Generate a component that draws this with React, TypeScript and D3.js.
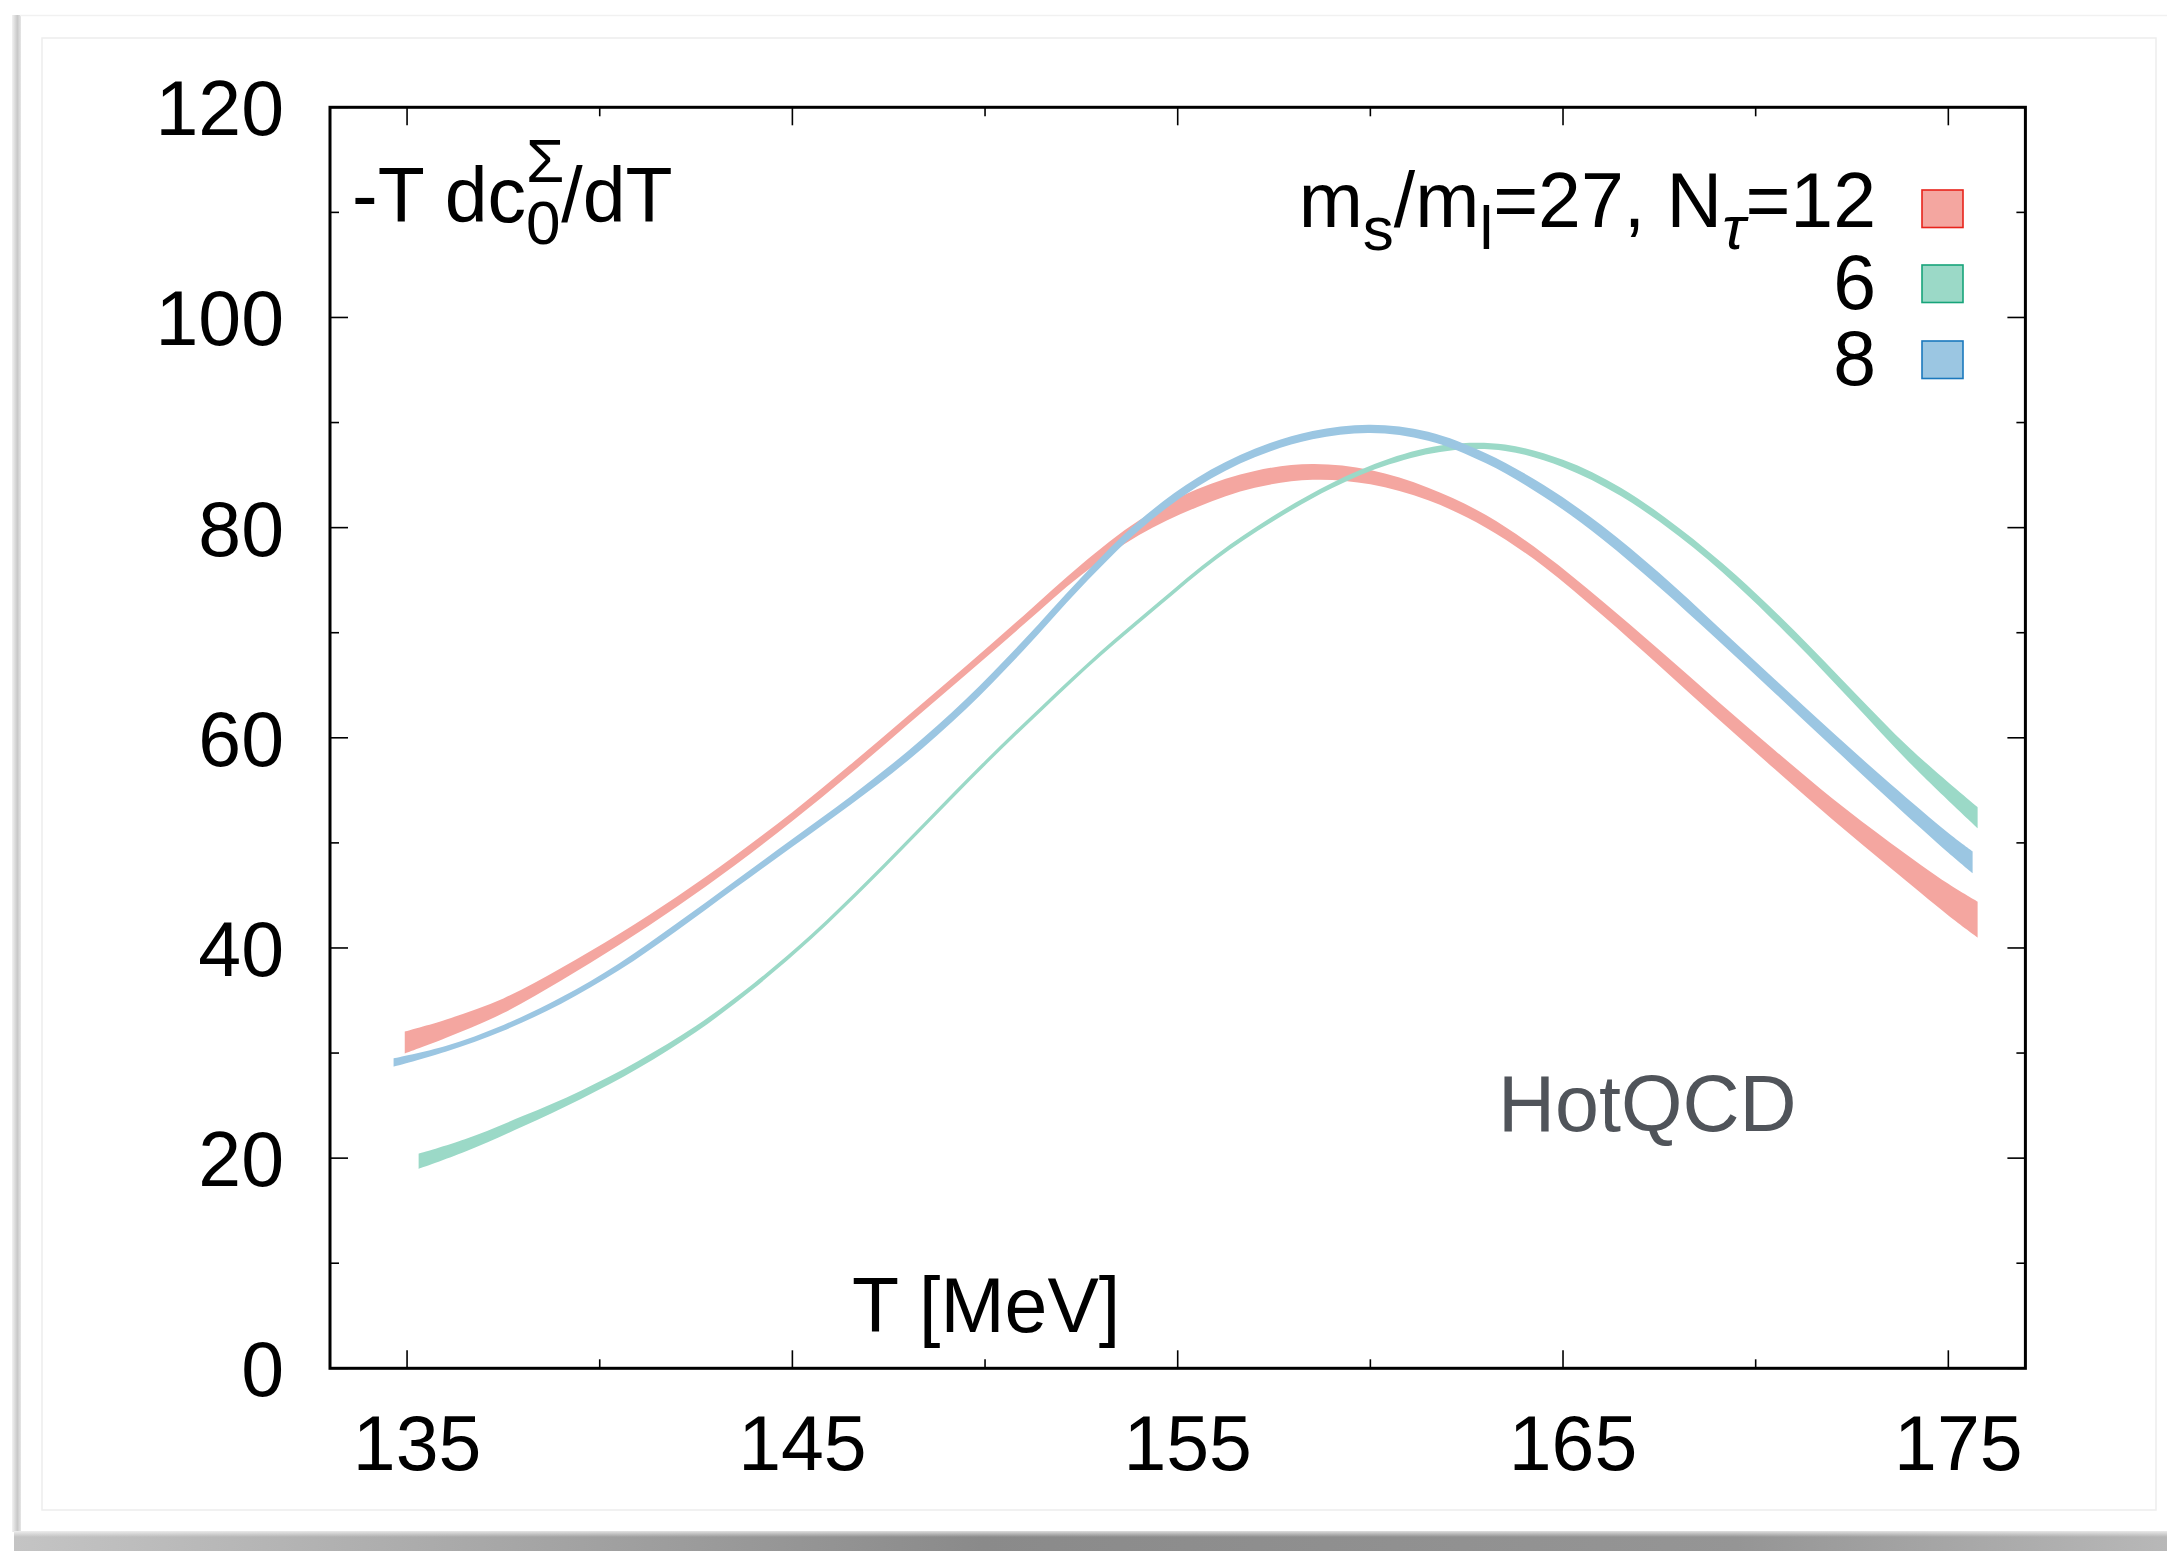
import React from "react";
import * as d3 from "d3";

// ---- data: band centre and band width ----
// N_tau = 12 (red band)
const nt12T = [134.94, 136, 137.5, 139, 140.5, 142, 143.5, 145, 146.5, 148, 149.5, 151, 152.5, 154, 155.5, 157, 158.5, 160, 161.5, 163, 164.5, 166, 167.5, 169, 170.5, 172, 173.5, 175, 175.76];
const nt12Mid = [31.0, 32.3, 34.5, 37.5, 40.8, 44.4, 48.3, 52.5, 57.0, 61.7, 66.4, 71.2, 76.0, 80.0, 82.8, 84.6, 85.3, 84.8, 83.2, 80.6, 76.9, 72.4, 67.6, 62.7, 57.9, 53.2, 48.8, 44.6, 42.7];
const nt12Width = [2.1, 1.75, 1.4, 1.2, 1.05, 0.95, 0.9, 0.85, 0.85, 0.8, 0.8, 0.85, 1.0, 1.4, 1.7, 1.6, 1.5, 1.35, 1.2, 1.2, 1.2, 1.35, 1.5, 1.65, 1.8, 2.0, 2.4, 3.0, 3.4];

// N_tau = 6 (green band)
const nt6T = [135.3, 136.5, 138, 139.5, 141, 142.5, 144, 145.5, 147, 148.5, 150, 151.5, 153, 154.5, 156, 157.5, 159, 160.5, 162, 163.5, 165, 166.5, 168, 169.5, 171, 172.5, 174, 175.76];
const nt6Mid = [19.7, 21.2, 23.5, 26.0, 28.9, 32.3, 36.4, 41.1, 46.4, 52.0, 57.6, 62.9, 68.0, 72.7, 77.2, 80.9, 84.0, 86.3, 87.6, 87.6, 86.1, 83.4, 79.6, 75.0, 69.7, 64.0, 58.3, 52.4];
const nt6Width = [1.45, 1.2, 1.0, 0.8, 0.7, 0.6, 0.5, 0.45, 0.45, 0.45, 0.45, 0.45, 0.45, 0.45, 0.45, 0.5, 0.5, 0.55, 0.6, 0.6, 0.7, 0.8, 0.8, 0.9, 1.0, 1.1, 1.4, 2.0];

// N_tau = 8 (blue band)
const nt8T = [134.65, 136, 137.5, 139, 140.5, 142, 143.5, 145, 146.5, 148, 149.5, 151, 152.5, 154, 155.5, 157, 158.5, 160, 161.5, 163, 164.5, 166, 167.5, 169, 170.5, 172, 173.5, 175, 175.63];
const nt8Mid = [29.1, 30.4, 32.4, 35.0, 38.2, 42.0, 46.0, 50.0, 54.0, 58.3, 63.2, 68.8, 74.8, 80.2, 84.3, 87.1, 88.8, 89.4, 88.7, 86.6, 83.5, 79.6, 75.0, 70.0, 64.9, 59.8, 54.8, 50.0, 48.15];
const nt8Width = [0.8, 0.55, 0.55, 0.6, 0.65, 0.7, 0.7, 0.75, 0.8, 0.9, 0.95, 0.95, 0.9, 0.9, 0.85, 0.8, 0.8, 0.8, 0.85, 0.95, 1.1, 1.25, 1.35, 1.3, 1.3, 1.4, 1.6, 1.9, 2.1];

const xMajorTicks = [135, 145, 155, 165, 175];
const xMinorTicks = [140, 150, 160, 170];
const yMajorTicks = [0, 20, 40, 60, 80, 100, 120];
const yMinorTicks = [10, 30, 50, 70, 90, 110];
const legendLabels = ["12", "6", "8"];

const W = 2167;
const H = 1551;
const FS = 77;
const SUB = 62;

const x = d3.scaleLinear().domain([133, 177]).range([330, 2025.4]);
const y = d3.scaleLinear().domain([0, 120]).range([1368.3, 107.3]);

type Pt = { t: number; lo: number; hi: number };
const zipBand = (t: number[], mid: number[], w: number[]): Pt[] =>
  t.map((v, i) => ({ t: v, lo: mid[i] - w[i] / 2, hi: mid[i] + w[i] / 2 }));

const area = d3
  .area<Pt>()
  .x((d) => x(d.t))
  .y0((d) => y(d.lo))
  .y1((d) => y(d.hi))
  .curve(d3.curveCatmullRom.alpha(0.5));

const bands = [
  { key: "12", data: zipBand(nt12T, nt12Mid, nt12Width), fill: "#f4a6a0", stroke: "#e8231b" },
  { key: "6", data: zipBand(nt6T, nt6Mid, nt6Width), fill: "#9bd9c7", stroke: "#17a47a" },
  { key: "8", data: zipBand(nt8T, nt8Mid, nt8Width), fill: "#9bc6e2", stroke: "#1b78bd" },
];

export default function App() {
  const [x0, x1] = x.range();
  const [yb, yt] = y.range();
  const font = "'Liberation Sans', Arial, Helvetica, sans-serif";
  const legendRows = [
    { base: 227, boxTop: 190 },
    { base: 309, boxTop: 265 },
    { base: 385, boxTop: 341 },
  ];
  return (
    <svg
      width={W}
      height={H}
      viewBox={`0 0 ${W} ${H}`}
      style={{ position: "absolute", left: 0, top: 0, background: "#ffffff" }}
      fontFamily={font}
    >
      <defs>
        <linearGradient id="bshadow" x1="0" y1="0" x2="1" y2="0">
          <stop offset="0" stopColor="#c4c4c4" />
          <stop offset="0.45" stopColor="#8a8a8a" />
          <stop offset="0.8" stopColor="#959595" />
          <stop offset="1" stopColor="#b8b8b8" />
        </linearGradient>
        <linearGradient id="lshadow" x1="0" y1="0" x2="1" y2="0">
          <stop offset="0" stopColor="#f2f2f2" />
          <stop offset="0.6" stopColor="#c8c8c8" />
          <stop offset="1" stopColor="#e6e6e6" />
        </linearGradient>
        <linearGradient id="bfade" x1="0" y1="0" x2="0" y2="1">
          <stop offset="0" stopColor="#ffffff" stopOpacity="0.7" />
          <stop offset="0.3" stopColor="#ffffff" stopOpacity="0" />
          <stop offset="1" stopColor="#ffffff" stopOpacity="0" />
        </linearGradient>
      </defs>
      <rect x={0} y={0} width={W} height={H} fill="#ffffff" />
      {/* photo-frame decoration */}
      <rect x={12} y={15} width={9} height={1517} fill="url(#lshadow)" />
      <line x1={20} y1={15.5} x2={W} y2={15.5} stroke="#f1f1f1" strokeWidth={1.5} />
      <rect x={14} y={1531} width={W - 14} height={20} fill="url(#bshadow)" />
      <rect x={14} y={1531} width={W - 14} height={20} fill="url(#bfade)" />
      <rect x={42} y={38} width={2114} height={1472} fill="none" stroke="#ededed" strokeWidth={1.5} />

      {/* bands */}
      {bands.map((b) => (
        <path key={b.key} d={area(b.data) || ""} fill={b.fill} stroke="none" />
      ))}

      {/* ticks */}
      <g stroke="#000" strokeWidth={1.6}>
        {xMajorTicks.map((t) => (
          <g key={"xM" + t}>
            <line x1={x(t)} x2={x(t)} y1={yb} y2={yb - 18} />
            <line x1={x(t)} x2={x(t)} y1={yt} y2={yt + 18} />
          </g>
        ))}
        {xMinorTicks.map((t) => (
          <g key={"xm" + t}>
            <line x1={x(t)} x2={x(t)} y1={yb} y2={yb - 9} />
            <line x1={x(t)} x2={x(t)} y1={yt} y2={yt + 9} />
          </g>
        ))}
        {yMajorTicks.map((t) => (
          <g key={"yM" + t}>
            <line x1={x0} x2={x0 + 18} y1={y(t)} y2={y(t)} />
            <line x1={x1} x2={x1 - 18} y1={y(t)} y2={y(t)} />
          </g>
        ))}
        {yMinorTicks.map((t) => (
          <g key={"ym" + t}>
            <line x1={x0} x2={x0 + 9} y1={y(t)} y2={y(t)} />
            <line x1={x1} x2={x1 - 9} y1={y(t)} y2={y(t)} />
          </g>
        ))}
      </g>

      {/* frame */}
      <rect x={x0} y={yt} width={x1 - x0} height={yb - yt} fill="none" stroke="#000" strokeWidth={3} />

      {/* tick labels */}
      <g fontSize={FS} fill="#000">
        {xMajorTicks.map((t) => (
          <text key={"xl" + t} x={x(t) + 10} y={1470} textAnchor="middle">
            {t}
          </text>
        ))}
        {yMajorTicks.map((t) => (
          <text key={"yl" + t} x={284} y={y(t) + 28} textAnchor="end">
            {t}
          </text>
        ))}
      </g>

      {/* y label inside */}
      <text x={352} y={222} fontSize={FS} fill="#000">
        <tspan>-T dc</tspan>
        <tspan fontSize={SUB} dy={22}>0</tspan>
        <tspan fontSize={SUB} dx={-34.5} dy={-62}>Σ</tspan>
        <tspan fontSize={FS} dy={40} dx={-3}>/dT</tspan>
      </text>

      {/* x label inside */}
      <text x={852} y={1332} fontSize={FS} fill="#000">
        T [MeV]
      </text>

      {/* HotQCD */}
      <text x={1498} y={1131} fontSize={79} fill="#50545a">
        HotQCD
      </text>

      {/* legend */}
      <g fontSize={FS} fill="#000">
        <text x={1876} y={legendRows[0].base} textAnchor="end">
          <tspan>m</tspan>
          <tspan fontSize={SUB} dy={23}>s</tspan>
          <tspan dy={-23}>/m</tspan>
          <tspan fontSize={SUB} dy={22}>l</tspan>
          <tspan dy={-22}>=27, N</tspan>
          <tspan fontSize={SUB} fontStyle="italic" dy={22}>τ</tspan>
          <tspan dy={-22}>={legendLabels[0]}</tspan>
        </text>
        <text x={1876} y={legendRows[1].base} textAnchor="end">
          {legendLabels[1]}
        </text>
        <text x={1876} y={legendRows[2].base} textAnchor="end">
          {legendLabels[2]}
        </text>
      </g>
      {bands.map((b, i) => (
        <rect
          key={"lg" + b.key}
          x={1922}
          y={legendRows[i].boxTop}
          width={41}
          height={37.5}
          fill={b.fill}
          stroke={b.stroke}
          strokeWidth={1.6}
        />
      ))}
    </svg>
  );
}
